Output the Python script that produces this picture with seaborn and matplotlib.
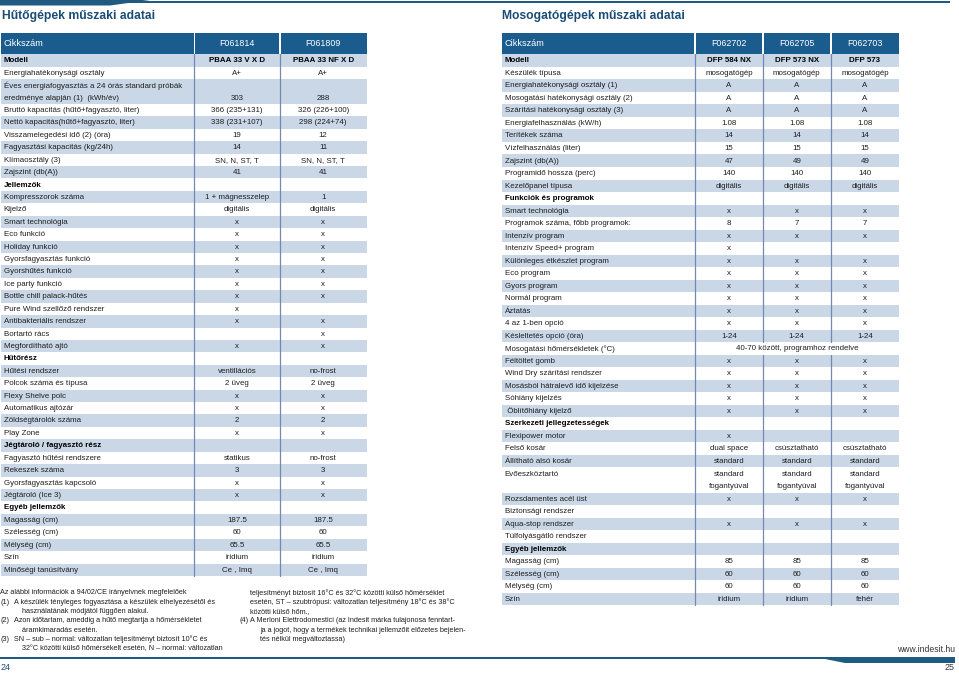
import matplotlib
matplotlib.use('Agg')
import matplotlib.pyplot as plt
import seaborn as sns
from matplotlib.patches import Rectangle, Polygon

# ---- data: refrigerators (left page) ----
left_title = "Hűtőgépek műszaki adatai"
left_codes = ["F061814", "F061809"]
left_labels = [
    "Modell", "Energiahatékonysági osztály",
    "Éves energiafogyasztás a 24 órás standard próbák",
    "eredménye alapján (1)  (kWh/év)",
    "Bruttó kapacitás (hűtő+fagyasztó, liter)",
    "Nettó kapacitás(hűtő+fagyasztó, liter)",
    "Visszamelegedési idő (2) (óra)", "Fagyasztási kapacitás (kg/24h)",
    "Klímaosztály (3)", "Zajszint (db(A))", "Jellemzők",
    "Kompresszorok száma", "Kijelző", "Smart technológia", "Eco funkció",
    "Holiday funkció", "Gyorsfagyasztás funkció", "Gyorshűtés funkció",
    "Ice party funkció", "Bottle chill palack-hűtés",
    "Pure Wind szellőző rendszer", "Antibakteriális rendszer",
    "Bortartó rács", "Megfordítható ajtó", "Hűtőrész", "Hűtési rendszer",
    "Polcok száma és típusa", "Flexy Shelve polc", "Automatikus ajtózár",
    "Zöldségtárolók száma", "Play Zone", "Jégtároló / fagyasztó rész",
    "Fagyasztó hűtési rendszere", "Rekeszek száma",
    "Gyorsfagyasztás kapcsoló", "Jégtároló (Ice 3)", "Egyéb jellemzők",
    "Magasság (cm)", "Szélesség (cm)", "Mélység (cm)", "Szín",
    "Minőségi tanúsítvány",
]
left_col1 = [
    "PBAA 33 V X D", "A+", "", "303", "366 (235+131)", "338 (231+107)",
    "19", "14", "SN, N, ST, T", "41", "", "1 + mágnesszelep", "digitális",
    "x", "x", "x", "x", "x", "x", "x", "x", "x", "", "x", "",
    "ventillációs", "2 üveg", "x", "x", "2", "x", "", "statikus", "3",
    "x", "x", "", "187.5", "60", "65.5", "iridium", "Ce , Imq",
]
left_col2 = [
    "PBAA 33 NF X D", "A+", "", "288", "326 (226+100)", "298 (224+74)",
    "12", "11", "SN, N, ST, T", "41", "", "1", "digitális",
    "x", "x", "x", "x", "x", "x", "x", "", "x", "x", "x", "",
    "no-frost", "2 üveg", "x", "x", "2", "x", "", "no-frost", "3",
    "x", "x", "", "187.5", "60", "65.5", "iridium", "Ce , Imq",
]
left_bold = ["Modell", "Jellemzők", "Hűtőrész", "Jégtároló / fagyasztó rész",
             "Egyéb jellemzők"]
left_continued = [3]   # second line of a two-line row

# ---- data: dishwashers (right page) ----
right_title = "Mosogatógépek műszaki adatai"
right_codes = ["F062702", "F062705", "F062703"]
right_labels = [
    "Modell", "Készülék típusa", "Energiahatékonysági osztály (1)",
    "Mosogatási hatékonysági osztály (2)",
    "Szárítási hatékonysági osztály (3)", "Energiafelhasználás (kW/h)",
    "Terítékek száma", "Vízfelhasználás (liter)", "Zajszint (db(A))",
    "Programidő hossza (perc)", "Kezelőpanel típusa",
    "Funkciók és programok", "Smart technológia",
    "Programok száma, főbb programok:", "Intenzív program",
    "Intenzív Speed+ program", "Különleges étkészlet program",
    "Eco program", "Gyors program", "Normál program", "Áztatás",
    "4 az 1-ben opció", "Késleltetés opció (óra)",
    "Mosogatási hőmérsékletek (°C)", "Féltöltet gomb",
    "Wind Dry szárítási rendszer", "Mosásból hátralevő idő kijelzése",
    "Sóhiány kijelzés", " Öblítőhiány kijelző",
    "Szerkezeti jellegzetességek", "Flexipower motor", "Felső kosár",
    "Állítható alsó kosár", "Evőeszköztartó", "", "Rozsdamentes acél üst",
    "Biztonsági rendszer", "Aqua-stop rendszer", "Túlfolyásgátló rendszer",
    "Egyéb jellemzők", "Magasság (cm)", "Szélesség (cm)", "Mélység (cm)",
    "Szín",
]
right_col1 = [
    "DFP 584 NX", "mosogatógép", "A", "A", "A", "1.08", "14", "15", "47",
    "140", "digitális", "", "x", "8", "x", "x", "x", "x", "x", "x", "x",
    "x", "1-24", "", "x", "x", "x", "x", "x", "", "x", "dual space",
    "standard", "standard", "fogantyúval", "x", "", "x", "", "", "85",
    "60", "60", "iridium",
]
right_col2 = [
    "DFP 573 NX", "mosogatógép", "A", "A", "A", "1.08", "14", "15", "49",
    "140", "digitális", "", "x", "7", "x", "", "x", "x", "x", "x", "x",
    "x", "1-24", "", "x", "x", "x", "x", "x", "", "", "csúsztatható",
    "standard", "standard", "fogantyúval", "x", "", "x", "", "", "85",
    "60", "60", "iridium",
]
right_col3 = [
    "DFP 573", "mosogatógép", "A", "A", "A", "1.08", "14", "15", "49",
    "140", "digitális", "", "x", "7", "x", "", "x", "x", "x", "x", "x",
    "x", "1-24", "", "x", "x", "x", "x", "x", "", "", "csúsztatható",
    "standard", "standard", "fogantyúval", "x", "", "x", "", "", "85",
    "60", "60", "fehér",
]
right_bold = ["Modell", "Funkciók és programok",
              "Szerkezeti jellegzetességek", "Egyéb jellemzők"]
right_continued = [34]
right_merged = {23: "40-70 között, programhoz rendelve"}

left_notes = [
    ("", "Az alábbi információk a 94/02/CE irányelvnek megfelelőek"),
    ("(1)", "A készülék tényleges fogyasztása a készülék elhelyezésétől és"),
    ("", "használatának módjától függően alakul."),
    ("(2)", "Azon időtartam, ameddig a hűtő megtartja a hőmérsékletet"),
    ("", "áramkimaradás esetén."),
    ("(3)", "SN – sub – normal: változatlan teljesítményt biztosít 10°C és"),
    ("", "32°C közötti külső hőmérsékelt esetén, N – normal: változatlan"),
]
right_notes = [
    ("", "teljesítményt biztosít 16°C és 32°C közötti külső hőmérséklet"),
    ("", "esetén, ST – szubtrópusi: változatlan teljesítmény 18°C és 38°C"),
    ("", "közötti külső hőm.,"),
    ("(4)", "A Merloni Elettrodomestici (az Indesit márka tulajonosa fenntart-"),
    ("", "ja a jogot, hogy a termékek technikai jellemzőit előzetes bejelen-"),
    ("", "tés nélkül megváltoztassa)"),
]

# ---- style ----
sns.set_theme(style="white")
plt.rcParams['font.family'] = ['Liberation Sans', 'DejaVu Sans']

HEAD = '#1b5c8e'
SHADE = '#c9d7e7'
VLINE = '#7389b2'
TITLE = '#1b4c75'
TXT = '#1f1f1f'
BAND = '#1f5a80'
FS = 5.7

fig = plt.figure(figsize=(9.59, 6.75), dpi=100)
ax = fig.add_axes([0, 0, 1, 1])
ax.set_xlim(0, 959)
ax.set_ylim(675, 0)
ax.axis('off')


def draw_table(x_edges, top, rh, head_h, codes, labels, cols, bold_rows,
               continued, merged=None):
    merged = merged or {}
    head_top = top - head_h
    # header cells, separated by thin white gaps
    for j in range(len(x_edges) - 1):
        x0 = x_edges[j] + (0 if j == 0 else 0.8)
        x1 = x_edges[j + 1] - (0 if j == len(x_edges) - 2 else 0.8)
        ax.add_patch(Rectangle((x0, head_top), x1 - x0, head_h, color=HEAD, lw=0))
    ax.text(x_edges[0] + 2.5, head_top + head_h / 2, "Cikkszám", color='white',
            fontsize=6.6, va='center', ha='left')
    for j, code in enumerate(codes):
        cx = (x_edges[j + 1] + x_edges[j + 2]) / 2
        ax.text(cx, head_top + head_h / 2, code, color='white', fontsize=6.4,
                va='center', ha='center')
    # body rows, shading alternates per logical row
    k = -1
    for i, label in enumerate(labels):
        if i not in continued:
            k += 1
        y0 = top + i * rh
        if k % 2 == 0:
            ax.add_patch(Rectangle((x_edges[0], y0), x_edges[-1] - x_edges[0], rh,
                                   color=SHADE, lw=0))
        bold = label in bold_rows
        yc = y0 + rh / 2 + 0.3
        ax.text(x_edges[0] + 2.5, yc, label, fontsize=FS, color='black' if bold else TXT,
                fontweight='bold' if bold else 'normal', va='center', ha='left')
        if i in merged:
            cx = (x_edges[1] + x_edges[-1]) / 2
            ax.text(cx, yc, merged[i], fontsize=FS, color=TXT, va='center', ha='center')
            continue
        for j, col in enumerate(cols):
            cx = (x_edges[j + 1] + x_edges[j + 2]) / 2
            ax.text(cx, yc, col[i], fontsize=FS, color='black' if i == 0 else TXT,
                    fontweight='bold' if i == 0 else 'normal', va='center', ha='center')
    bottom = top + len(labels) * rh
    # vertical separators (inner ones skip merged rows)
    ax.plot([x_edges[1], x_edges[1]], [top, bottom], color=VLINE, lw=0.9)
    for xe in x_edges[2:-1]:
        segs = [top]
        for i in sorted(merged):
            segs += [top + i * rh, top + (i + 1) * rh]
        segs.append(bottom)
        for a, b in zip(segs[0::2], segs[1::2]):
            ax.plot([xe, xe], [a, b], color=VLINE, lw=0.9)


draw_table([1, 194.3, 279.7, 366.7], 54.3, 12.42, 21, left_codes, left_labels,
           [left_col1, left_col2], left_bold, left_continued)
draw_table([502.3, 695, 762.8, 830.8, 899], 54.3, 12.52, 21, right_codes,
           right_labels, [right_col1, right_col2, right_col3], right_bold,
           right_continued, right_merged)

# titles
ax.text(2, 15.5, left_title, fontsize=8.7, fontweight='bold', color=TITLE,
        va='center', ha='left')
ax.text(502, 15.5, right_title, fontsize=8.7, fontweight='bold', color=TITLE,
        va='center', ha='left')

# page bands
ax.add_patch(Rectangle((0, 1.2), 950, 2.0, color=BAND, lw=0))
ax.add_patch(Polygon([[0, 0], [150, 0], [110, 5.5], [0, 5.5]], closed=True,
                     color=BAND, lw=0))
ax.add_patch(Rectangle((0, 657), 955, 2.0, color=BAND, lw=0))
ax.add_patch(Polygon([[815, 657], [955, 657], [955, 663], [845, 663]],
                     closed=True, color=BAND, lw=0))

# footnotes
for n, (num, txt) in enumerate(left_notes):
    y = 593 + n * 9.3
    if num:
        ax.text(0.5, y, num, fontsize=5.2, color=TXT, va='center', ha='left')
        ax.text(13.5, y, txt, fontsize=5.2, color=TXT, va='center', ha='left')
    else:
        ax.text(0.5 if n == 0 else 21.5, y, txt, fontsize=5.2, color=TXT,
                va='center', ha='left')
for n, (num, txt) in enumerate(right_notes):
    y = 593 + n * 9.3
    if num:
        ax.text(239, y, num, fontsize=5.2, color=TXT, va='center', ha='left')
        ax.text(250.5, y, txt, fontsize=5.2, color=TXT, va='center', ha='left')
    else:
        ax.text(250.5 if n < 3 else 260, y, txt, fontsize=5.2, color=TXT,
                va='center', ha='left')

ax.text(955, 649, "www.indesit.hu", fontsize=6.2, color='#333333', va='center', ha='right')
ax.text(1, 668, "24", fontsize=6.4, color=TITLE, va='center', ha='left')
ax.text(955, 668, "25", fontsize=6.4, color='#333333', va='center', ha='right')

fig.savefig("out.png", dpi=100)
